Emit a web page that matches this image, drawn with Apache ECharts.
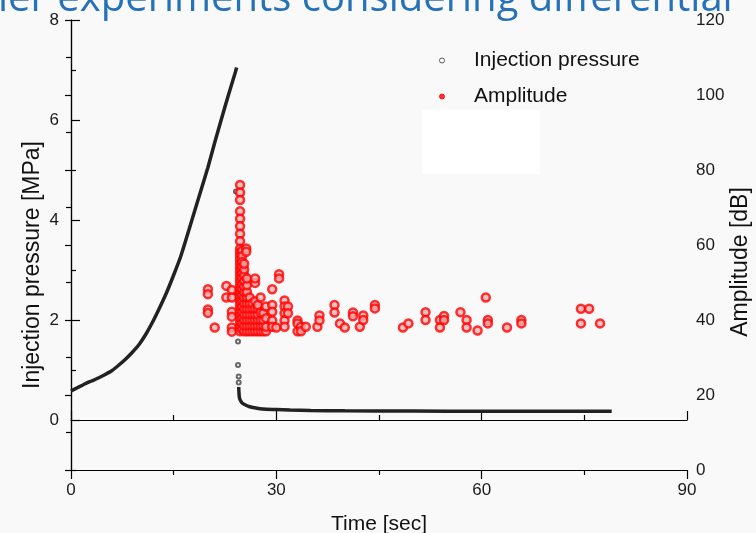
<!DOCTYPE html>
<html>
<head>
<meta charset="utf-8">
<script src="https://cdn.jsdelivr.net/npm/echarts@6/dist/echarts.min.js"></script>
<style>
  html, body { margin: 0; padding: 0; background: #faf9f9; }
  #chart { width: 756px; height: 533px; }
</style>
</head>
<body>
<div id="chart"></div>
<script>
// injection pressure, rising part (sec, MPa)
const riseTime = [0, 1, 2, 3, 4, 5, 6, 7, 8, 9, 10, 11, 12, 13, 14, 15, 16, 17, 18, 19, 20, 21, 22, 23, 24, 24.2];
const risePress = [0.58, 0.65, 0.72, 0.78, 0.84, 0.91, 0.99, 1.10, 1.22, 1.36, 1.52, 1.73, 1.98, 2.26, 2.56, 2.90, 3.26, 3.70, 4.15, 4.60, 5.05, 5.55, 6.03, 6.50, 6.95, 7.05];

// the few points during the pressure drop
const dropTime = [24.1, 24.1, 24.4, 24.4, 24.5, 24.5];
const dropPress = [4.57, 2.57, 1.57, 1.10, 0.87, 0.75];

// residual pressure after breakdown
const tailTime = [24.5, 24.6, 24.8, 25.0, 25.5, 26, 27, 28, 30, 32, 35, 40, 50, 60, 70, 79];
const tailPress = [0.66, 0.45, 0.38, 0.34, 0.30, 0.27, 0.24, 0.22, 0.21, 0.20, 0.19, 0.185, 0.18, 0.175, 0.175, 0.175];

// acoustic emission amplitude events [sec, dB]
const amplitude = [
  [20.0, 48.2], [20.0, 46.9], [20.0, 42.8], [20.0, 41.9], [21.0, 38.0],
  [22.7, 49.1], [22.7, 46.0],
  [23.5, 48.0], [23.5, 46.0], [23.5, 42.2], [23.5, 40.9], [23.5, 38.0], [23.5, 36.9],
  [24.7, 76], [24.7, 74], [24.7, 72], [24.7, 69], [24.7, 67], [24.7, 65], [24.7, 63], [24.7, 61], [24.7, 59],
  [24.7, 58], [24.7, 57], [24.7, 56], [24.7, 55], [24.7, 54], [24.7, 53], [24.7, 52], [24.7, 51], [24.7, 50],
  [24.7, 49], [24.7, 48], [24.7, 47], [24.7, 46], [24.7, 45], [24.7, 44], [24.7, 43], [24.7, 42], [24.7, 41],
  [24.7, 40], [24.7, 39], [24.7, 38], [24.7, 37],
  [25.0, 58.5], [25.0, 57], [25.0, 55.5], [25.0, 54], [25.0, 52.5], [25.0, 51], [25.0, 49.5], [25.0, 48],
  [25.0, 46.5], [25.0, 45], [25.0, 43.5], [25.0, 42], [25.0, 40.5], [25.0, 39], [25.0, 37.5],
  [25.6, 59.1], [25.6, 58.2],
  [25.3, 37], [25.3, 38.5], [25.3, 40], [25.3, 41.5], [25.3, 43], [25.3, 44.5], [25.3, 46], [25.3, 47.5],
  [25.3, 49], [25.3, 50.5], [25.3, 52], [25.3, 53.5], [25.3, 55],
  [25.7, 37], [25.7, 38.5], [25.7, 40], [25.7, 41.5], [25.7, 43], [25.7, 44.5], [25.7, 46], [25.7, 47.5],
  [25.7, 49.3], [25.7, 51.1],
  [26.1, 37], [26.1, 38.5], [26.1, 40], [26.1, 41.5], [26.1, 43], [26.1, 44.5], [26.1, 46],
  [26.5, 37], [26.5, 38.5], [26.5, 40], [26.5, 41.5], [26.5, 43], [26.5, 44.5],
  [26.9, 37], [26.9, 38.5], [26.9, 40], [26.9, 41.5], [26.9, 43], [26.9, 45], [26.9, 49.9], [26.9, 51.1],
  [27.3, 37], [27.3, 38.5], [27.3, 40], [27.3, 41.5], [27.3, 43], [27.3, 44],
  [27.7, 37], [27.7, 38.5], [27.7, 40], [27.7, 42], [27.7, 46],
  [28.1, 37], [28.1, 38.5], [28.1, 40], [28.1, 41.8],
  [28.5, 37], [28.5, 38.2], [28.5, 40.5], [28.5, 43.6],
  [29.4, 48.2], [29.4, 44], [29.4, 42.2], [29.4, 39.9], [29.4, 38.2],
  [30.4, 52.2], [30.4, 51.1], [30.0, 38.0],
  [31.2, 45.2], [31.2, 43.6], [31.2, 41.8], [31.2, 39.9], [31.2, 38.2],
  [31.7, 43.6], [31.7, 41.8],
  [33.1, 39.9], [33.1, 39.1], [33.1, 37.0], [33.6, 38.2], [33.6, 37.0], [34.3, 38.2],
  [36.0, 38.2], [36.3, 41.2], [36.3, 39.9],
  [38.5, 44], [38.5, 42], [39.3, 39.1], [40.0, 38.0],
  [41.2, 42], [41.2, 41], [42.2, 38.2], [42.7, 41.2], [42.7, 40],
  [44.4, 44], [44.4, 43.1],
  [48.5, 38.0], [49.3, 39.1],
  [51.8, 42.1], [51.8, 40], [53.9, 40], [53.9, 38], [54.5, 41.1], [54.5, 40],
  [56.9, 42.1], [57.8, 40], [57.8, 38], [59.4, 37.2],
  [60.6, 46], [60.9, 40], [60.9, 39.1], [63.7, 38],
  [65.8, 40], [65.8, 39.1],
  [74.5, 43], [75.7, 43], [74.5, 39.1], [77.3, 39.1]
];

const timeTicks = [0, 30, 60, 90];
const pressTicks = [0, 2, 4, 6, 8];
const pressMinor = [-1, 1, 3, 5, 7];

const pressureLine = riseTime.map((t, i) => [t, risePress[i]])
  .concat([[null, null]])
  .concat(tailTime.map((t, i) => [t, tailPress[i]]));
const pressureDrop = dropTime.map((t, i) => [t, dropPress[i]]);

const labelFont = { color: '#1a1a1a', fontSize: 17, fontFamily: 'Liberation Sans' };
const black = { color: '#000', width: 1.2 };

const chart = echarts.init(document.getElementById('chart'));
chart.setOption({
  backgroundColor: '#faf9f9',
  animation: false,
  grid: { left: 71, right: 69, top: 20, bottom: 63, outerBoundsMode: 'none', containLabel: false },
  legend: {
    orient: 'vertical',
    left: 434,
    top: 45,
    itemWidth: 54,
    itemHeight: 5,
    itemGap: 15,
    textStyle: { color: '#111', fontSize: 21, fontFamily: 'Liberation Sans' },
    data: [
      { name: 'Injection pressure', icon: 'circle', itemStyle: { color: '#fff', borderColor: '#555', borderWidth: 1 } },
      { name: 'Amplitude', icon: 'circle', itemStyle: { color: '#f00', borderColor: '#f00', borderWidth: 1 } }
    ]
  },
  graphic: [
    { type: 'rect', shape: { x: 422, y: 110, width: 118, height: 64 }, style: { fill: '#ffffff' }, z: -1 },
    { type: 'text', x: -2, y: 0, style: { text: 'ler experiments considering differential', font: '40px "Open Sans"', fill: '#2672b8', textVerticalAlign: 'middle' }, z: 10 },
    { type: 'text', x: 33, y: 265, rotation: Math.PI / 2, style: { text: 'Injection pressure [MPa]', font: '23px "Liberation Sans"', fill: '#111', textAlign: 'center', textVerticalAlign: 'middle' } },
    { type: 'text', x: 741, y: 262, rotation: Math.PI / 2, style: { text: 'Amplitude [dB]', font: '23px "Liberation Sans"', fill: '#111', textAlign: 'center', textVerticalAlign: 'middle' } }
  ],
  xAxis: [
    {
      type: 'value', position: 'bottom', min: 0, max: 90, interval: 30,
      name: 'Time [sec]', nameLocation: 'middle', nameGap: 44,
      nameTextStyle: { color: '#111', fontSize: 21, fontFamily: 'Liberation Sans' },
      axisLine: { lineStyle: black },
      axisTick: { inside: true, length: 9, lineStyle: black },
      minorTick: { show: true, splitNumber: 2, length: 5, lineStyle: black },
      axisLabel: Object.assign({ margin: 12, customValues: timeTicks }, labelFont),
      splitLine: { show: false }
    },
    {
      type: 'value', position: 'top', min: 0, max: 90, interval: 30,
      axisLine: { lineStyle: black },
      axisTick: { inside: true, length: 9, lineStyle: black },
      minorTick: { show: true, splitNumber: 2, length: 5, lineStyle: black },
      axisLabel: { show: false },
      splitLine: { show: false }
    }
  ],
  yAxis: [
    {
      type: 'value', position: 'left', min: -1, max: 8, interval: 1,
      axisLine: { show: true, lineStyle: black },
      axisTick: { inside: true, length: 9, customValues: pressTicks, lineStyle: black },
      axisLabel: Object.assign({ margin: 12, customValues: pressTicks }, labelFont),
      splitLine: { show: false }
    },
    {
      type: 'value', position: 'right', min: 0, max: 120, interval: 20,
      axisLine: { show: true, lineStyle: black },
      axisTick: { inside: true, length: 6, lineStyle: black },
      minorTick: { show: true, splitNumber: 2, length: 5, lineStyle: black },
      axisLabel: Object.assign({ margin: 9 }, labelFont),
      splitLine: { show: false }
    },
    {
      type: 'value', position: 'left', min: -1, max: 8, interval: 1,
      axisLine: { show: false },
      axisTick: { inside: true, length: 5, customValues: pressMinor, lineStyle: black },
      axisLabel: { show: false },
      splitLine: { show: false }
    }
  ],
  series: [
    {
      name: 'Injection pressure', type: 'line', xAxisIndex: 0, yAxisIndex: 0,
      data: pressureLine, showSymbol: false, smooth: 0.2, connectNulls: false,
      lineStyle: { color: '#222', width: 3.5 }, itemStyle: { color: '#222' }, z: 2
    },
    {
      name: 'Injection pressure', type: 'scatter', xAxisIndex: 0, yAxisIndex: 0,
      data: pressureDrop, symbol: 'emptyCircle', symbolSize: 4,
      itemStyle: { color: '#444', borderWidth: 1 }, z: 3
    },
    {
      name: 'Amplitude', type: 'scatter', xAxisIndex: 0, yAxisIndex: 1,
      data: amplitude, symbol: 'circle', symbolSize: 8,
      itemStyle: { color: '#ffb0b0', borderColor: '#ff0000', borderWidth: 2.5 }, z: 4
    }
  ]
});
</script>
</body>
</html>
